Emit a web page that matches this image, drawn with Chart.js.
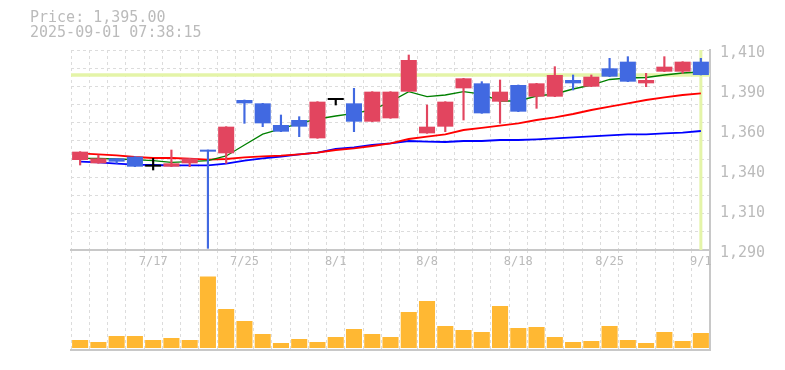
<!DOCTYPE html>
<html><head><meta charset="utf-8">
<script src="https://cdn.jsdelivr.net/npm/chart.js@4"></script>
<style>
html,body{margin:0;padding:0;background:#fff;}
#wrap{position:relative;width:785px;height:370px;overflow:hidden;background:#fff;}
canvas{position:absolute;left:0;top:0;}
#hdr{position:absolute;left:30px;top:10px;font-family:"DejaVu Sans Mono",monospace;font-size:15px;line-height:15px;color:#bbb;white-space:pre;z-index:2;}
</style></head><body>
<div id="wrap">
<canvas id="vol" width="785" height="370" style="width:785px;height:370px"></canvas>
<canvas id="price" width="785" height="370" style="width:785px;height:370px"></canvas>
<div id="hdr"></div>
</div>
<script>
const headerLines = ['Price: 1,395.00', '2025-09-01 07:38:15'];
const currentPrice = 1395;

const categories = ['7/11','7/14','7/15','7/16','7/17','7/18','7/22','7/23','7/24','7/25',
  '7/28','7/29','7/30','7/31','8/1','8/4','8/5','8/6','8/7','8/8',
  '8/12','8/13','8/14','8/15','8/18','8/19','8/20','8/21','8/22','8/25',
  '8/26','8/27','8/28','8/29','9/1'];

const opens  = [1344,1342,1345,1346,1340,1340,1342,1350,1348,1380,1378,1365,1368,1357,1380,1378,1367,1369,1385,1360,1364,1387,1390,1379,1389,1382,1382,1392,1388,1399,1403,1390,1397,1397,1403];
const highs  = [1349,1347,1345,1346,1345,1350,1345,1350,1364,1380,1378,1371,1370,1379,1380,1387,1385,1385,1407,1377,1379,1393,1391,1392,1389,1390,1400,1395,1395,1405,1406,1396,1406,1403,1405];
const lows   = [1341,1342,1342,1340,1338,1340,1340,1291,1342,1366,1364,1361,1358,1357,1377,1361,1367,1369,1385,1360,1361,1368,1372,1366,1373,1375,1382,1386,1388,1394,1391,1388,1397,1396,1395];
const closes = [1349,1345,1343,1340,1340,1342,1345,1349,1364,1378,1366,1361,1364,1379,1380,1367,1385,1385,1404,1364,1379,1393,1372,1385,1373,1390,1395,1390,1394,1394,1391,1392,1400,1403,1395];

const maShort = [1345,1345,1344.6,1344.2,1343.6,1342.6,1343,1343.6,1346.4,1353,1359.5,1362.7,1366,1368.6,1370.4,1372,1374,1379,1385,1382,1383,1385,1383.5,1379.4,1379.4,1382.4,1383.6,1386.6,1389,1392.3,1393.2,1393.5,1395,1396.2,1396.8];
const maMid   = [1348,1347.4,1346.8,1345.8,1345.2,1345.2,1344.8,1344.2,1344.6,1345.6,1346.2,1346.6,1347.4,1348.4,1350,1351,1352.4,1354,1356.6,1358,1359.4,1362,1363.3,1364.6,1366,1368,1369.6,1371.6,1374,1376,1378,1380,1381.6,1383,1384];
const maLong  = [1343,1342.6,1341.8,1341.2,1341,1340.8,1340.8,1340.8,1341.8,1343.6,1345,1346.1,1347.4,1348.4,1350.6,1351.6,1353,1354,1355.4,1355,1354.8,1355.4,1355.4,1356,1356,1356.4,1357,1357.6,1358.2,1358.8,1359.4,1359.4,1360,1360.4,1361.4];

const volumes = [16,12,24,24,16,20,16,143,78,54,28,10,18,12,22,38,28,22,72,94,44,36,32,84,40,42,22,12,14,44,16,10,32,14,30];

const priceTicks = [1290,1314,1338,1362,1386,1410];
const priceTickLabels = ['1,290','1,310','1,340','1,360','1,390','1,410'];

document.getElementById('hdr').textContent = headerLines.join('\n');

const UP = '#e2455f', DOWN = '#4169e1', EVEN = '#000000';
const candleColors = opens.map((o,i)=> closes[i] > o ? UP : (closes[i] < o ? DOWN : EVEN));
const bodies = opens.map((o,i)=>[o, closes[i]]);
const wicks = lows.map((l,i)=>[l, highs[i]]);

const MONO = '"DejaVu Sans Mono", monospace';
const GRID = '#dcdcdc';
const AXIS = '#c8c8c8';

const highlightPlugin = {
  id: 'highlight',
  beforeDatasetsDraw(chart) {
    const {ctx, chartArea} = chart;
    const y = chart.scales.y.getPixelForValue(currentPrice);
    const x = chart.scales.x.getPixelForValue(categories.length - 1);
    ctx.save();
    ctx.strokeStyle = '#e4f4a8';
    ctx.lineWidth = 3.5;
    ctx.beginPath();
    ctx.moveTo(chartArea.left, y); ctx.lineTo(chartArea.right, y);
    ctx.stroke();
    ctx.lineWidth = 3;
    ctx.beginPath();
    ctx.moveTo(x, chartArea.top); ctx.lineTo(x, chartArea.bottom);
    ctx.stroke();
    ctx.restore();
  }
};

new Chart(document.getElementById('price'), {
  type: 'bar',
  data: {
    labels: categories,
    datasets: [
      {type:'bar', data: bodies, backgroundColor: candleColors, grouped:false, barPercentage:0.88, categoryPercentage:1, minBarLength:2, yAxisID:'y', order:1},
      {type:'bar', data: wicks, backgroundColor: candleColors, grouped:false, barThickness:1.5, yAxisID:'y', order:2},
      {type:'line', data: maShort, borderColor:'#008000', borderWidth:1.3, pointRadius:0, fill:false, tension:0, yAxisID:'y', order:3},
      {type:'line', data: maMid, borderColor:'#ff0000', borderWidth:1.8, pointRadius:0, fill:false, tension:0, yAxisID:'y', order:4},
      {type:'line', data: maLong, borderColor:'#0000ff', borderWidth:1.8, pointRadius:0, fill:false, tension:0, yAxisID:'y', order:5}
    ]
  },
  options: {
    responsive:false, maintainAspectRatio:false, animation:false,
    layout:{padding:{left:71, top:50, right:0, bottom:120}},
    plugins:{legend:{display:false}, tooltip:{enabled:false}},
    scales:{
      x:{
        grid:{color:GRID, offset:true, drawTicks:false, lineWidth:1},
        border:{display:true, color:AXIS, width:2, dash:[3,3]},
        ticks:{display:false},
        afterFit(s){ s.height = 0; }
      },
      y:{
        type:'linear', position:'right', min:1290, max:1410,
        afterBuildTicks(s){ s.ticks = priceTicks.map(v=>({value:v})); },
        ticks:{
          callback(v, i){ return priceTickLabels[i]; },
          font:{family:MONO, size:15}, color:'#bbb', padding:10, labelOffset:3
        },
        grid:{display:false, drawTicks:false},
        border:{display:true, color:AXIS, width:2},
        afterFit(s){ s.width = 75; }
      },
      g:{
        type:'linear', position:'left', min:0, max:11,
        ticks:{display:false, stepSize:1},
        grid:{color:GRID, drawTicks:false, lineWidth:1},
        border:{display:false, dash:[3,3]},
        afterFit(s){ s.width = 0; }
      }
    }
  },
  plugins:[highlightPlugin]
});

const xLabelPlugin = {
  id: 'xlabels',
  afterDraw(chart) {
    const {ctx} = chart;
    const xs = chart.scales.x;
    const n = categories.length;
    ctx.save();
    ctx.font = '12px ' + MONO;
    ctx.fillStyle = '#bbb';
    ctx.textAlign = 'center';
    ctx.textBaseline = 'middle';
    for (let i = 0; i < n; i++) {
      if ((n - 1 - i) % 5 === 0) ctx.fillText(categories[i], xs.getPixelForValue(i), 262);
    }
    ctx.restore();
  }
};

new Chart(document.getElementById('vol'), {
  type: 'bar',
  data: {
    labels: categories,
    datasets: [{data: volumes, backgroundColor:'#ffb833', barPercentage:0.88, categoryPercentage:1}]
  },
  options: {
    responsive:false, maintainAspectRatio:false, animation:false,
    layout:{padding:{left:71, top:250, right:0, bottom:20}},
    plugins:{legend:{display:false}, tooltip:{enabled:false}},
    scales:{
      x:{
        grid:{color:GRID, offset:true, drawTicks:false, lineWidth:1},
        border:{display:true, color:AXIS, width:2, dash:[3,3]},
        ticks:{display:false},
        afterFit(s){ s.height = 0; }
      },
      y:{
        type:'linear', position:'right', min:-4, max:196,
        ticks:{display:false},
        grid:{display:false, drawTicks:false},
        border:{display:true, color:AXIS, width:2},
        afterFit(s){ s.width = 75; }
      }
    }
  },
  plugins:[xLabelPlugin]
});
</script>
</body></html>
